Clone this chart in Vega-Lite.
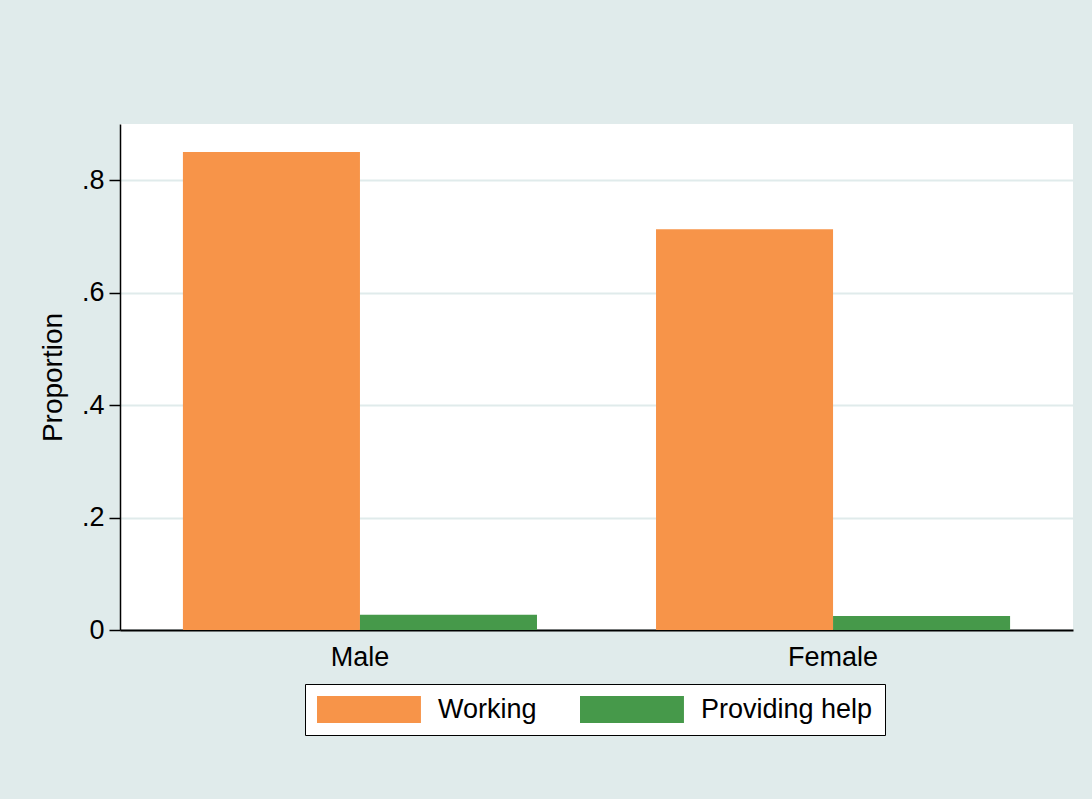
{
  "$schema": "https://vega.github.io/schema/vega-lite/v6.json",
  "width": 953,
  "height": 506,
  "autosize": {"type": "none"},
  "padding": {"left": 120, "top": 124, "right": 19, "bottom": 169},
  "background": "#e0ebeb",
  "config": {
    "view": {"fill": "white", "stroke": null},
    "font": "Liberation Sans"
  },
  "data": {
    "values": [
      {"sex": "Male", "measure": "Working", "value": 0.85},
      {"sex": "Male", "measure": "Providing help", "value": 0.027},
      {"sex": "Female", "measure": "Working", "value": 0.713},
      {"sex": "Female", "measure": "Providing help", "value": 0.025}
    ]
  },
  "mark": {"type": "bar"},
  "encoding": {
    "x": {
      "field": "sex",
      "type": "nominal",
      "sort": ["Male", "Female"],
      "scale": {"paddingInner": 0.2516, "paddingOuter": 0.133},
      "axis": {
        "title": null,
        "labelAngle": 0,
        "ticks": false,
        "grid": false,
        "domainColor": "black",
        "domainWidth": 2,
        "labelFontSize": 27,
        "labelColor": "black",
        "labelPadding": 14
      }
    },
    "xOffset": {
      "field": "measure",
      "sort": ["Working", "Providing help"],
      "scale": {"paddingInner": 0, "paddingOuter": 0}
    },
    "y": {
      "field": "value",
      "type": "quantitative",
      "scale": {"domain": [0, 0.9], "nice": false},
      "axis": {
        "title": "Proportion",
        "titleFontSize": 28,
        "titleFontWeight": "normal",
        "titleColor": "black",
        "titlePadding": 14,
        "values": [0, 0.2, 0.4, 0.6, 0.8],
        "labelExpr": "datum.value == 0 ? '0' : replace(format(datum.value, '.1f'), '0.', '.')",
        "labelFontSize": 27,
        "labelColor": "black",
        "labelPadding": 5,
        "tickSize": 11,
        "tickColor": "black",
        "tickWidth": 1.5,
        "domainColor": "black",
        "domainWidth": 1.5,
        "gridColor": "#e0ebeb",
        "gridWidth": 2
      }
    },
    "color": {
      "field": "measure",
      "type": "nominal",
      "sort": ["Working", "Providing help"],
      "scale": {"domain": ["Working", "Providing help"], "range": ["#f79449", "#46994a"]},
      "legend": {
        "title": null,
        "orient": "none",
        "legendX": 185,
        "legendY": 560,
        "direction": "horizontal",
        "fillColor": "white",
        "strokeColor": "black",
        "padding": 12,
        "labelFontSize": 27,
        "labelColor": "black",
        "labelLimit": 0,
        "symbolType": "M-1,-1H6.7V1H-1Z",
        "symbolSize": 729,
        "symbolStrokeWidth": 0,
        "symbolOpacity": 1,
        "labelOffset": 94,
        "columnPadding": 43
      }
    }
  }
}
